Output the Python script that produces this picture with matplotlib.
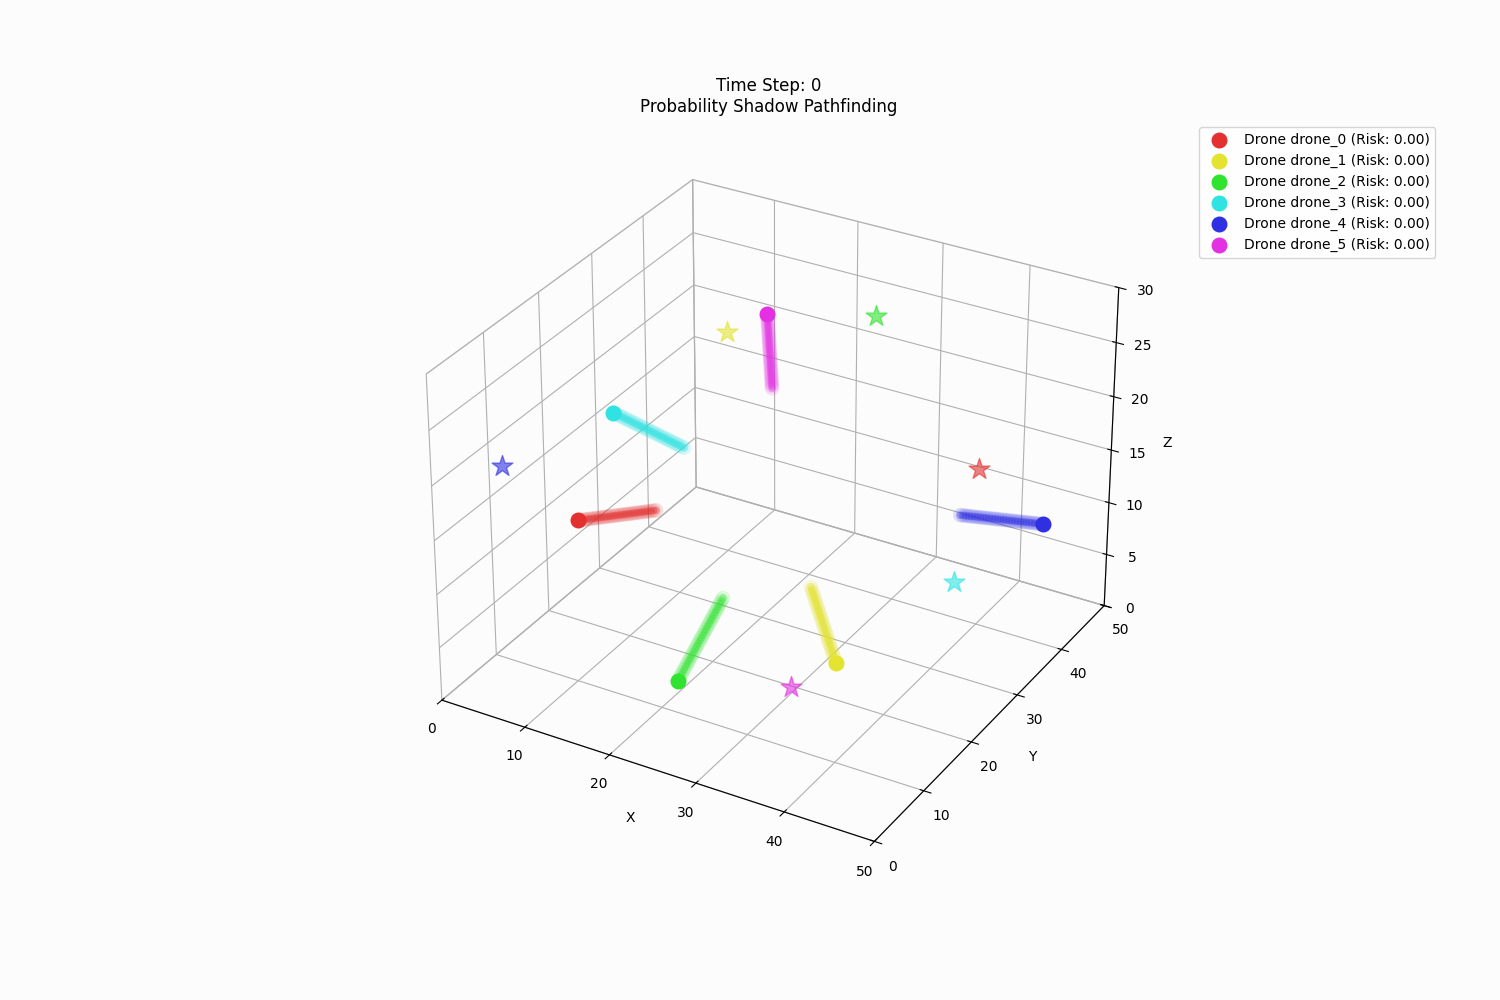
import matplotlib
matplotlib.use("Agg")
import matplotlib.pyplot as plt
import numpy as np

drone_ids = ["drone_0", "drone_1", "drone_2", "drone_3", "drone_4", "drone_5"]
colors = ["#e33030", "#e3e330", "#30e330", "#30e3e3", "#3030e3", "#e330e3"]
starts_x = [4, 34.5, 25, 7.3, 45, 19]
starts_y = [20, 20, 5, 22, 45, 33]
starts_z = [9.7, 3.5, 6.0, 19.8, 8.8, 27.3]
goals_x = [45, 16, 25, 43.5, 5, 31]
goals_y = [30, 30, 45, 28, 5, 17]
goals_z = [20.0, 26.1, 24.0, 10.0, 21.0, 1.7]
risks = [0.0, 0.0, 0.0, 0.0, 0.0, 0.0]
shadow_fraction = [0.20, 0.23, 0.22, 0.21, 0.16, 0.20]

fig = plt.figure(figsize=(15, 10), dpi=100, facecolor="#fcfcfc")
ax = fig.add_subplot(111, projection="3d")
ax.set_facecolor("#fcfcfc")
for a in (ax.xaxis, ax.yaxis, ax.zaxis):
    a.pane.fill = False
    a.pane.set_edgecolor("#bbbbbb")

steps = np.linspace(0, 1, 30)
handles = []
for i, d in enumerate(drone_ids):
    s = np.array([starts_x[i], starts_y[i], starts_z[i]])
    g = np.array([goals_x[i], goals_y[i], goals_z[i]])
    pts = s[None, :] + (g - s)[None, :] * (steps[:, None] * shadow_fraction[i])
    ax.scatter(pts[:, 0], pts[:, 1], pts[:, 2], color=colors[i], s=110, alpha=0.15, edgecolors="none", depthshade=False)
    ax.scatter(pts[:, 0], pts[:, 1], pts[:, 2], color=colors[i], s=30, alpha=0.35, edgecolors="none", depthshade=False)
    h = ax.scatter([s[0]], [s[1]], [s[2]], color=colors[i], s=110, depthshade=False,
                   label=f"Drone {d} (Risk: {risks[i]:.2f})")
    handles.append(h)
    ax.scatter([g[0]], [g[1]], [g[2]], color=colors[i], marker="*", s=250, alpha=0.6, depthshade=False)

ax.set_xlim(0, 50)
ax.set_ylim(0, 50)
ax.set_zlim(0, 30)
ax.set_xlabel("X")
ax.set_ylabel("Y")
ax.set_zlabel("Z")
ax.set_title("Time Step: 0\nProbability Shadow Pathfinding")
fig.legend(handles=handles, loc="upper left", bbox_to_anchor=(0.795, 0.88))
fig.savefig("out.png", dpi=100, facecolor=fig.get_facecolor())
